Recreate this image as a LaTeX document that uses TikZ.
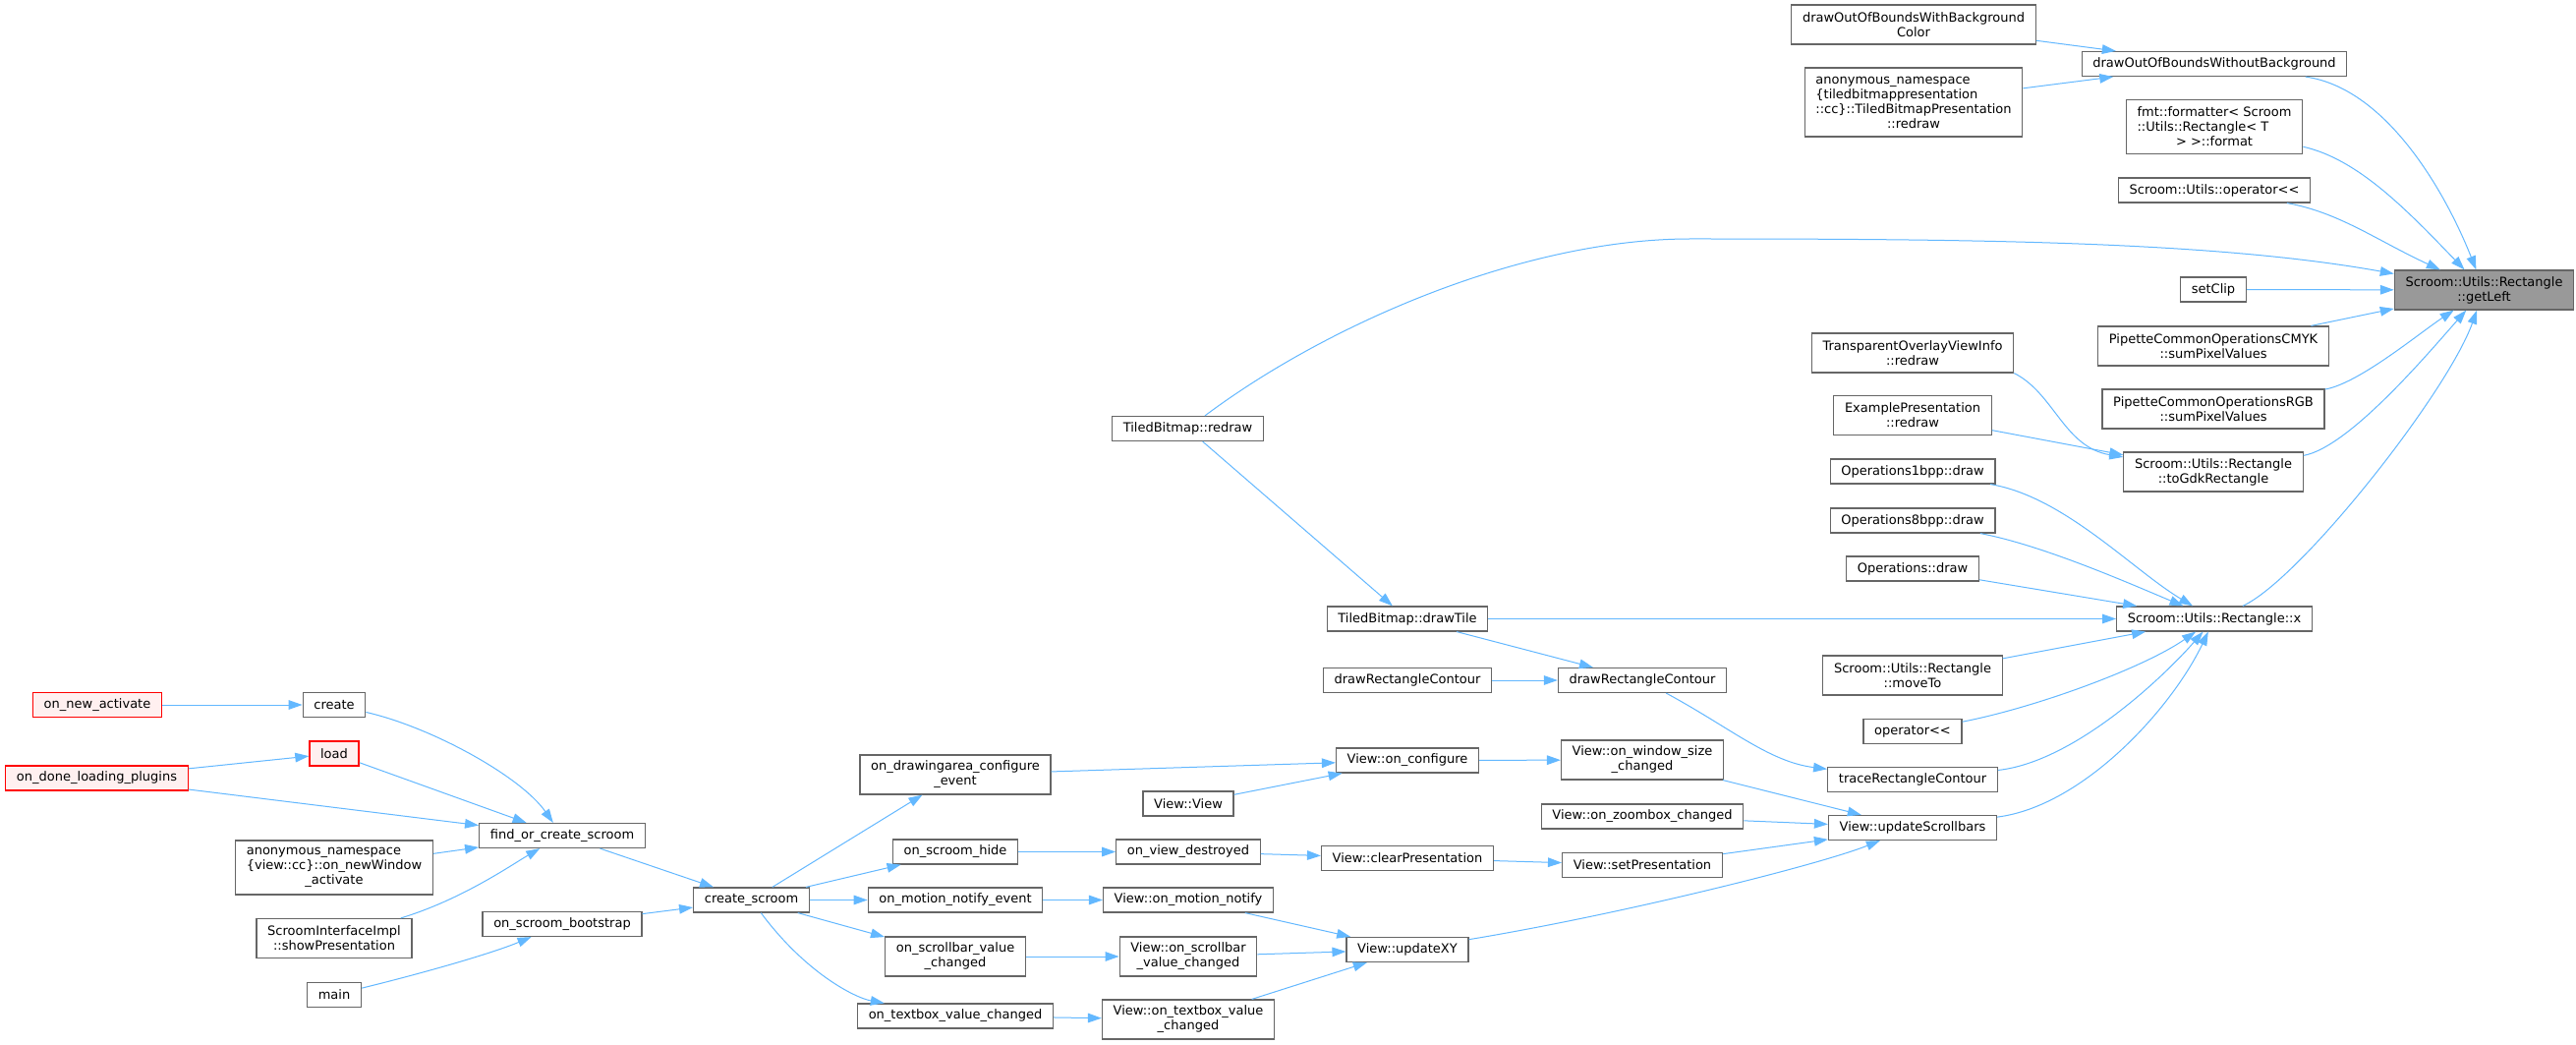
\documentclass[tikz,border=0pt]{standalone}
\usepackage{fontspec}
\setmainfont{DejaVu Sans}
\usetikzlibrary{arrows.meta}
\definecolor{edgeblue}{HTML}{63B8FF}
\definecolor{boxgray}{HTML}{666666}
\definecolor{rootgray}{HTML}{999999}
\definecolor{truncfill}{HTML}{FFF0F0}

\begin{document}
\begin{tikzpicture}[
				x=0.5pt, y=-0.5pt,
				font=\fontsize{6.5}{7.5}\selectfont,
				>={Triangle[length=7pt,width=4.8pt]}]
			\tikzstyle{func node}=[rectangle,draw=boxgray,fill=white,line width=0.6pt,inner xsep=5.6pt,inner ysep=0pt,minimum height=12.5pt,align=center]
			\tikzstyle{root node}=[func node,fill=rootgray]
			\tikzstyle{trunc node}=[func node,draw=red,fill=truncfill]
			\tikzstyle{two line}=[minimum height=20pt]
			\tikzstyle{three line}=[minimum height=27.5pt]
			\tikzstyle{four line}=[minimum height=35pt]
			\tikzstyle{call edge}=[->,draw=edgeblue,line width=0.5pt]
			\path[use as bounding box,fill=white] (0,0) rectangle (2621,1063);
			% callee
			\node[root node,two line] (getleft) at (2527.5,295) {Scroom::Utils::Rectangle\\::getLeft};
			% column next to getLeft
			\node[func node] (wobg) at (2253,65) {drawOutOfBoundsWithoutBackground};
			\node[func node,three line,align=left] (fmtfmt) at (2253,129) {fmt::formatter< Scroom\\::Utils::Rectangle< T\\\hspace*{0pt plus 1fil}> >::format};
			\node[func node] (sop) at (2253,193.5) {Scroom::Utils::operator<\kern0pt<};
			\node[func node] (setclip) at (2252,294.5) {setClip};
			\node[func node,two line] (cmyk) at (2252,352) {PipetteCommonOperationsCMYK\\::sumPixelValues};
			\node[func node,two line] (rgb) at (2252,416) {PipetteCommonOperationsRGB\\::sumPixelValues};
			\node[func node,two line] (togdk) at (2252,480) {Scroom::Utils::Rectangle\\::toGdkRectangle};
			\node[func node] (rectx) at (2253,629.5) {Scroom::Utils::Rectangle::x};
			% next column
			\node[func node,two line] (wbg) at (1947,25) {drawOutOfBoundsWithBackground\\Color};
			\node[func node,four line,align=left] (tbpredraw) at (1947,104) {anonymous\_namespace\\\{tiledbitmappresentation\\::cc\}::TiledBitmapPresentation\\\hspace*{0pt plus 1fil}::redraw};
			\node[func node,two line] (tovredraw) at (1946,359) {TransparentOverlayViewInfo\\::redraw};
			\node[func node,two line] (exredraw) at (1946,422.5) {ExamplePresentation\\::redraw};
			\node[func node] (ops1) at (1946,479.5) {Operations1bpp::draw};
			\node[func node] (ops8) at (1946,529.5) {Operations8bpp::draw};
			\node[func node] (opsdraw) at (1946,578.5) {Operations::draw};
			\node[func node,two line] (moveto) at (1946,687) {Scroom::Utils::Rectangle\\::moveTo};
			\node[func node] (gop) at (1946,744) {operator<\kern0pt<};
			\node[func node] (trace) at (1946,793) {traceRectangleContour};
			\node[func node] (updsb) at (1946,842) {View::updateScrollbars};
			% view column
			\node[func node] (drc) at (1671,692) {drawRectangleContour};
			\node[func node,two line] (onwin) at (1671,773) {View::on\_window\_size\\\_changed};
			\node[func node] (zoombox) at (1671,830.5) {View::on\_zoombox\_changed};
			\node[func node] (setpres) at (1671,880) {View::setPresentation};
			\node[func node] (drawtile) at (1432,629.5) {TiledBitmap::drawTile};
			\node[func node] (drcleft) at (1432,692) {drawRectangleContour};
			\node[func node] (oncfg) at (1432,773.5) {View::on\_configure};
			\node[func node] (clearpres) at (1432,873) {View::clearPresentation};
			\node[func node] (updxy) at (1432,966) {View::updateXY};
			\node[func node] (tbredraw) at (1208.5,436) {TiledBitmap::redraw};
			\node[func node] (viewview) at (1209,817.5) {View::View};
			\node[func node] (viewdestr) at (1209,866.5) {on\_view\_destroyed};
			\node[func node] (vmotion) at (1209,915.5) {View::on\_motion\_notify};
			\node[func node,two line] (vscroll) at (1209,973) {View::on\_scrollbar\\\_value\_changed};
			\node[func node,two line] (vtextbox) at (1209,1037) {View::on\_textbox\_value\\\_changed};
			% callbacks
			\node[func node,two line] (onda) at (972,788) {on\_drawingarea\_configure\\\_event};
			\node[func node] (hide) at (972,866.5) {on\_scroom\_hide};
			\node[func node] (motion) at (972,915.5) {on\_motion\_notify\_event};
			\node[func node,two line] (scroll) at (972,973) {on\_scrollbar\_value\\\_changed};
			\node[func node] (textbox) at (972,1033.5) {on\_textbox\_value\_changed};
			\node[func node] (createsc) at (764.5,915.5) {create\_scroom};
			\node[func node] (findsc) at (572,850) {find\_or\_create\_scroom};
			\node[func node] (bootstrap) at (572,940) {on\_scroom\_bootstrap};
			\node[func node] (create) at (340,717) {create};
			\node[trunc node] (load) at (340,766.5) {load};
			\node[func node,three line,align=left] (anonview) at (340,882.5) {anonymous\_namespace\\\{view::cc\}::on\_newWindow\\\hspace*{0pt plus 1fil}\_activate};
			\node[func node,two line] (showpres) at (340,954.5) {ScroomInterfaceImpl\\::showPresentation};
			\node[func node] (main) at (340,1012) {main};
			\node[trunc node] (newact) at (99,717) {on\_new\_activate};
			\node[trunc node] (doneload) at (98.5,791.5) {on\_done\_loading\_plugins};
			% calls into getLeft
			\draw[call edge] (wbg) -- (wobg);
			\draw[call edge] (tbpredraw) -- (wobg);
			\draw[call edge] (wobg) .. controls (2430,90) and (2490,200) .. (getleft);
			\draw[call edge] (fmtfmt) .. controls (2400,162) and (2450,215) .. (getleft);
			\draw[call edge] (sop) .. controls (2380,216) and (2419,245) .. (getleft);
			\draw[call edge] (tbredraw) .. controls (1350,330) and (1550,243) .. (1720,243) .. controls (2000,243) and (2250,245) .. (getleft);
			\draw[call edge] (setclip) -- (getleft);
			\draw[call edge] (cmyk) -- (getleft);
			\draw[call edge] (rgb) .. controls (2400,390) and (2460,340) .. (getleft);
			\draw[call edge] (togdk) .. controls (2390,455) and (2470,360) .. (getleft);
			\draw[call edge] (rectx) .. controls (2340,590) and (2490,400) .. (getleft);
			\draw[call edge] (tovredraw.south east) .. controls (2090,400) and (2100,455) .. (togdk);
			\draw[call edge] (exredraw) -- (togdk);
			% calls into Rectangle::x
			\draw[call edge] (ops1) .. controls (2100,505) and (2170,580) .. (rectx);
			\draw[call edge] (ops8) .. controls (2080,555) and (2170,595) .. (rectx);
			\draw[call edge] (opsdraw) -- (rectx);
			\draw[call edge] (drawtile) -- (rectx);
			\draw[call edge] (moveto) -- (rectx);
			\draw[call edge] (gop) .. controls (2070,720) and (2180,680) .. (rectx);
			\draw[call edge] (trace) .. controls (2110,775) and (2200,690) .. (rectx);
			\draw[call edge] (updsb) .. controls (2120,820) and (2210,720) .. (rectx);
			\draw[call edge] (tbredraw) -- (drawtile);
			\draw[call edge] (drawtile) -- (drc);
			\draw[call edge] (drcleft) -- (drc);
			\draw[call edge] (drc) .. controls (1760,740) and (1800,775) .. (trace);
			% view calls
			\draw[call edge] (oncfg) -- (onwin);
			\draw[call edge] (onwin) -- (updsb);
			\draw[call edge] (zoombox) -- (updsb);
			\draw[call edge] (setpres) -- (updsb);
			\draw[call edge] (updxy) .. controls (1650,930) and (1850,880) .. (updsb);
			\draw[call edge] (onda) -- (oncfg);
			\draw[call edge] (viewview) -- (oncfg);
			\draw[call edge] (hide) -- (viewdestr);
			\draw[call edge] (viewdestr) -- (clearpres);
			\draw[call edge] (clearpres) -- (setpres);
			\draw[call edge] (motion) -- (vmotion);
			\draw[call edge] (vmotion) -- (updxy);
			\draw[call edge] (scroll) -- (vscroll);
			\draw[call edge] (vscroll) -- (updxy);
			\draw[call edge] (textbox) -- (vtextbox);
			\draw[call edge] (vtextbox) -- (updxy);
			% create_scroom and its callers
			\draw[call edge] (createsc) -- (onda);
			\draw[call edge] (createsc) -- (hide);
			\draw[call edge] (createsc) -- (motion);
			\draw[call edge] (createsc) -- (scroll);
			\draw[call edge] (createsc) .. controls (820,990) and (870,1015) .. (textbox);
			\draw[call edge] (findsc) -- (createsc);
			\draw[call edge] (bootstrap) -- (createsc);
			\draw[call edge] (main) .. controls (430,990) and (500,970) .. (bootstrap);
			\draw[call edge] (newact) -- (create);
			\draw[call edge] (create) .. controls (440,740) and (530,790) .. (findsc);
			\draw[call edge] (doneload) -- (load);
			\draw[call edge] (load) -- (findsc);
			\draw[call edge] (doneload) -- (findsc);
			\draw[call edge] (anonview) -- (findsc);
			\draw[call edge] (showpres) .. controls (470,915) and (520,880) .. (findsc);
		\end{tikzpicture}
\end{document}
